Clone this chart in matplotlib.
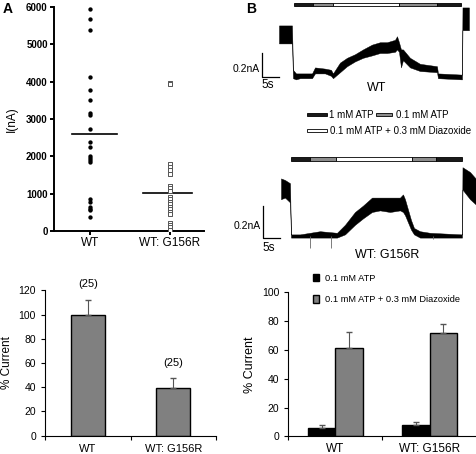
import matplotlib.pyplot as plt
from matplotlib.patches import Rectangle

plt.rcParams['font.family'] = ['Liberation Sans', 'DejaVu Sans']

W, H = 477, 454

# ---------------------------------------------------------------------
# data
# ---------------------------------------------------------------------
groups = ["WT", "WT: G156R"]

# panel A, single cells (nA)
wt_current = [5950, 5680, 5390, 4120, 3790, 3520, 3150, 3100, 2740, 2380,
              2250, 2000, 1950, 1900, 1850, 870, 790, 650, 600, 560, 380]
g156r_current = [3960, 3940, 1790, 1710, 1640, 1520, 1210, 1150, 1080, 920,
                 850, 790, 720, 650, 580, 520, 460, 220, 160, 100, 30]
mean_current = [2600, 1020]

# panel A, normalised
pct_current = [100, 39.6]
pct_err = [12, 7.7]
n_cells = ["(25)", "(25)"]

# panel B, bars
atp_pct = [6.0, 7.8]
atp_err = [1.8, 1.9]
diaz_pct = [61.5, 71.9]
diaz_err = [11.1, 6.1]

# panel B, traces: time (s), lower / upper edge of the noisy band (nA)
wt_t = [0, 3.82, 4.12, 5.0, 6.18, 9.71, 10.59, 13.53, 15.29, 15.88, 17.94,
        20.0, 22.35, 24.71, 27.35, 29.71, 31.76, 34.12, 34.71, 35.29, 35.88,
        36.47, 38.53, 41.47, 46.47, 46.76, 53.82, 53.97, 55.88]
wt_hi = [0.43, 0.43, 0.06, 0.03, 0.03, 0.03, 0.08, 0.07, 0.06, 0.03, 0.12,
         0.16, 0.19, 0.23, 0.27, 0.29, 0.29, 0.31, 0.34, 0.29, 0.23,
         0.23, 0.16, 0.11, 0.09, 0.03, 0.02, 0.58, 0.58]
wt_lo = [0.28, 0.28, -0.01, -0.02, -0.01, -0.01, 0.03, 0.03, 0.01, -0.01, 0.04,
         0.09, 0.13, 0.16, 0.18, 0.20, 0.20, 0.21, 0.23, 0.21, 0.08,
         0.14, 0.08, 0.05, 0.04, -0.01, -0.02, 0.39, 0.39]

mut_t = [0, 1.18, 2.65, 2.94, 5.59, 8.53, 11.47, 16.47, 18.82, 21.76, 24.12,
         26.76, 29.12, 32.06, 35.0, 35.88, 36.47, 38.24, 39.12, 40.88, 43.82,
         53.24, 53.38, 55.59, 57.65]
mut_hi = [0.36, 0.35, 0.33, 0.01, 0.01, 0.02, 0.03, 0.02, 0.07, 0.15, 0.19,
          0.24, 0.24, 0.24, 0.24, 0.26, 0.23, 0.10, 0.05, 0.03, 0.02,
          0.01, 0.43, 0.40, 0.35]
mut_lo = [0.23, 0.24, 0.21, -0.01, -0.01, -0.01, -0.01, -0.01, 0.01, 0.07, 0.11,
          0.15, 0.16, 0.15, 0.16, 0.15, 0.13, 0.04, 0.01, -0.01, -0.01,
          -0.01, 0.29, 0.23, 0.19]
mut_spike_t = [8.5, 14.7, 44.7]
mut_spike_i = [-0.075, -0.075, -0.02]

# solution changes (s): 1 mM ATP / 0.1 ATP / 0.1 ATP + diazoxide / 0.1 ATP / 1 mM ATP
wt_edges = [4.4, 10.0, 15.9, 35.3, 46.5, 53.5]
mut_edges = [2.9, 8.5, 16.2, 38.5, 45.6, 53.2]
sol_colors = ["#1a1a1a", "#8c8c8c", "white", "#8c8c8c", "#1a1a1a"]


def px_axes(fig, l, t, r, b):
    """axes placed by pixel box (left, top, right, bottom)"""
    return fig.add_axes([l / W, 1 - b / H, (r - l) / W, (b - t) / H])


fig = plt.figure(figsize=(W / 100, H / 100), dpi=100)

# ---------------------------------------------------------------------
# A: scatter
# ---------------------------------------------------------------------
ax = px_axes(fig, 54, 7, 204, 231)
ax.scatter([0] * len(wt_current), wt_current, s=4.5, color="black", zorder=3)
ax.scatter([1] * len(g156r_current), g156r_current, s=7, marker="s",
           facecolor="white", edgecolor="#555555", linewidth=0.7, zorder=3)
ax.plot([-0.22, 0.34], [mean_current[0]] * 2, color="black", lw=1.2)
ax.plot([0.66, 1.28], [mean_current[1]] * 2, color="black", lw=1.2)
ax.set_xlim(-0.45, 1.425)
ax.set_ylim(0, 6000)
ax.set_yticks(range(0, 6001, 1000))
ax.set_xticks([0, 1])
ax.set_xticklabels(groups, fontsize=8.5)
for lbl in ax.get_yticklabels():
    lbl.set_fontweight("bold")
    lbl.set_fontsize(7)
ax.tick_params(direction="out", length=3, width=1.4, pad=1.5)
ax.set_ylabel("I(nA)", fontsize=8.5, labelpad=6)
for s in ["top", "right"]:
    ax.spines[s].set_visible(False)
for s in ["left", "bottom"]:
    ax.spines[s].set_linewidth(1.4)

# ---------------------------------------------------------------------
# A: normalised current
# ---------------------------------------------------------------------
ax = px_axes(fig, 45, 290.3, 216, 435.7)
xc = [0.5, 1.5]
ax.bar(xc, pct_current, width=0.4, color="#808080", edgecolor="black", lw=1)
ax.errorbar(xc, pct_current, yerr=[[0, 0], pct_err], fmt="none",
            ecolor="#555555", elinewidth=0.8, capsize=2)
for x, v, e, n in zip(xc, pct_current, pct_err, n_cells):
    ax.text(x, v + e + 13, n, ha="center", va="center", fontsize=8)
ax.set_xlim(0, 2)
ax.set_ylim(0, 120)
ax.set_yticks(range(0, 121, 20))
ax.set_xticks([0, 1, 2])
ax.set_xticklabels([])
ax.set_xticks(xc, minor=True)
ax.set_xticklabels(groups, minor=True, fontsize=8)
ax.tick_params(axis="x", which="minor", length=0, pad=6)
ax.tick_params(which="major", direction="out", length=3, width=0.8, labelsize=7.5)
ax.set_ylabel("% Current", fontsize=8.5, labelpad=4)
for s in ["top", "right"]:
    ax.spines[s].set_visible(False)

# ---------------------------------------------------------------------
# B: normalised current with diazoxide
# ---------------------------------------------------------------------
ax = px_axes(fig, 288.3, 292.3, 476.7, 436.3)
bw = 0.29
xa = [x - bw / 2 for x in xc]
xd = [x + bw / 2 for x in xc]
ax.bar(xa, atp_pct, width=bw, color="black", edgecolor="black", lw=1,
       label="0.1 mM ATP")
ax.bar(xd, diaz_pct, width=bw, color="#808080", edgecolor="black", lw=1,
       label="0.1 mM ATP + 0.3 mM Diazoxide")
ax.errorbar(xa, atp_pct, yerr=[[0, 0], atp_err], fmt="none",
            ecolor="#555555", elinewidth=0.8, capsize=2)
ax.errorbar(xd, diaz_pct, yerr=[[0, 0], diaz_err], fmt="none",
            ecolor="#555555", elinewidth=0.8, capsize=2)
ax.set_xlim(0, 2)
ax.set_ylim(0, 100)
ax.set_yticks(range(0, 101, 20))
ax.set_xticks([0, 1, 2])
ax.set_xticklabels([])
ax.set_xticks(xc, minor=True)
ax.set_xticklabels(groups, minor=True, fontsize=8.5)
ax.tick_params(axis="x", which="minor", length=0, pad=5)
ax.tick_params(which="major", direction="out", length=3, width=0.8, labelsize=7.5)
ax.set_ylabel("% Current", fontsize=9, labelpad=4)
for s in ["top", "right"]:
    ax.spines[s].set_visible(False)
ax.legend(loc="upper left", bbox_to_anchor=(0.131, 1.129), frameon=False,
          fontsize=6.7, handlelength=0.7, handleheight=0.9, handletextpad=0.6,
          labelspacing=1.3, borderaxespad=0, borderpad=0)

# ---------------------------------------------------------------------
# B: traces
# ---------------------------------------------------------------------
def draw_trace(ax, t, lo, hi, edges, bar_y, label, label_pos, sb_x, sb_y):
    ax.fill_between(t, lo, hi, color="black", lw=0.3, edgecolor="black")
    for i, c in enumerate(sol_colors):
        ax.add_patch(Rectangle((edges[i], bar_y[0]), edges[i + 1] - edges[i],
                               bar_y[1] - bar_y[0], facecolor=c,
                               edgecolor="black", lw=0.6))
    # scale bar 0.2 nA / 5 s
    ax.plot([sb_x, sb_x, sb_x + 5], [sb_y + 0.2, sb_y, sb_y], color="black", lw=0.9)
    ax.text(sb_x - 0.8, sb_y + 0.07, "0.2nA", ha="right", va="center", fontsize=7.5)
    ax.text(sb_x + 1.8, sb_y - 0.065, "5s", ha="center", va="center", fontsize=8.5)
    ax.text(label_pos[0], label_pos[1], label, ha="center", va="center", fontsize=9)
    ax.axis("off")


ax = px_axes(fig, 225, 0, 477, 95)
ax.set_xlim(-15.88, 58.24)
ax.set_ylim(-0.15, 0.642)
draw_trace(ax, wt_t, wt_lo, wt_hi, wt_edges, (0.592, 0.617), "WT",
           (28.8, -0.09), -5.0, 0.0)

ax = px_axes(fig, 225, 150, 477, 260)
ax.set_xlim(-16.47, 57.65)
ax.set_ylim(-0.15, 0.5375)
draw_trace(ax, mut_t, mut_lo, mut_hi, mut_edges, (0.469, 0.494), "WT: G156R",
           (31.2, -0.12), -5.3, -0.01)
ax.vlines(mut_spike_t, 0, mut_spike_i, color="#666666", lw=0.6)

# legend for the solution bars (pixel coordinates)
lg = fig.add_axes([0, 0, 1, 1], zorder=-1)
lg.set_xlim(0, W)
lg.set_ylim(H, 0)
lg.axis("off")
for x0, x1, y0, c in [(307, 327, 113, "#1a1a1a"), (376, 392, 113, "#8c8c8c"),
                      (307, 327, 129, "white")]:
    lg.add_patch(Rectangle((x0, y0), x1 - x0, 3, facecolor=c,
                           edgecolor="black", lw=0.6))
lg.text(329, 114.5, "1 mM ATP", va="center", fontsize=7)
lg.text(396, 114.5, "0.1 mM ATP", va="center", fontsize=7)
lg.text(330, 130.5, "0.1 mM ATP + 0.3 mM Diazoxide", va="center", fontsize=7)

fig.text(3 / W, 1 - 9 / H, "A", fontsize=10, fontweight="bold", va="center")
fig.text(246 / W, 1 - 9 / H, "B", fontsize=10, fontweight="bold", va="center")

fig.savefig("out.png", dpi=100)
